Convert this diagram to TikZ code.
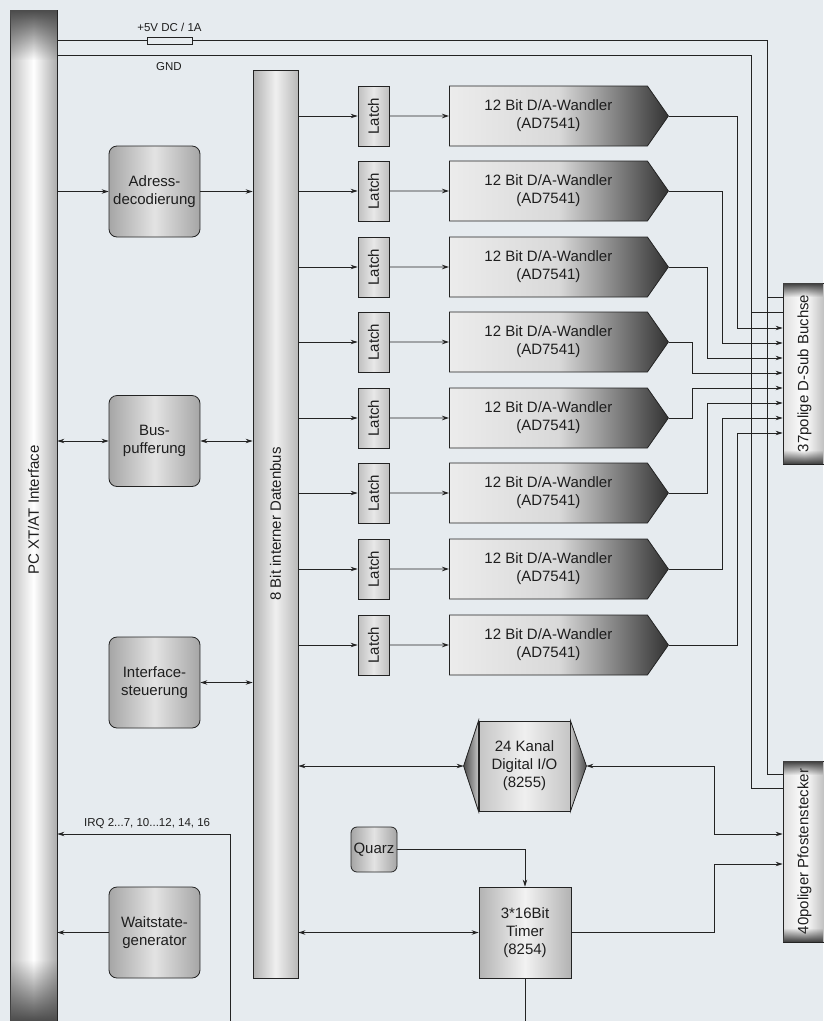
\documentclass[tikz,border=0pt]{standalone}
\usepackage{graphicx}
\usepackage{fontspec}
\setmainfont{Liberation Sans}
\usetikzlibrary{arrows.meta,shapes.symbols,fadings}

\definecolor{bgcol}{RGB}{230,235,239}
\definecolor{txtcol}{RGB}{30,30,30}
\definecolor{linecol}{RGB}{35,35,35}

\tikzfading[name=fadedown, top color=transparent!0, bottom color=transparent!100]
\tikzfading[name=fadeup, top color=transparent!100, bottom color=transparent!0]

\tikzset{
  wire/.style={draw=linecol, line width=0.8pt},
  arr/.style={wire, -{Stealth[length=7pt,width=4.5pt]}},
  darr/.style={wire, {Stealth[length=7pt,width=4.5pt]}-{Stealth[length=7pt,width=4.5pt]}},
  smalltext/.style={font=\fontsize{11.5}{13}\selectfont},
  pcbar/.style={draw=linecol, line width=0.8pt, left color=gray!50, right color=gray!65, middle color=white, inner sep=0pt},
  busbar/.style={draw=linecol, line width=0.8pt, left color=gray!60, right color=gray!55, middle color=gray!12, inner sep=0pt},
  unitbox/.style={draw=linecol, line width=0.8pt, rounded corners=8pt, left color=gray!70, right color=gray!70, middle color=gray!22, minimum width=91pt, minimum height=91pt, align=center, inner sep=0pt},
  latchbox/.style={draw=linecol, line width=0.8pt, left color=gray!50, right color=gray!50, middle color=gray!18, minimum width=31pt, minimum height=60pt, inner sep=0pt},
  dacbox/.style={signal, signal to=east, signal pointer angle=110, draw=linecol, line width=0.8pt, left color=gray!15, right color=black!80, middle color=gray!30, minimum width=219pt, minimum height=60pt, align=center, anchor=west},
  connbox/.style={draw=linecol, line width=0.8pt, left color=gray!25, right color=gray!55, middle color=white, minimum width=43pt, minimum height=181pt, inner sep=0pt},
  chipbox/.style={draw=linecol, line width=0.8pt, left color=gray!60, right color=gray!60, middle color=gray!10, minimum width=91pt, minimum height=91pt, align=center}
}

\begin{document}
\begin{tikzpicture}[x=1pt, y=-1pt, every node/.style={font=\fontsize{15}{18}\selectfont, text=txtcol}]
    % Background
    \fill[bgcol] (0,0) rectangle (823,1021);
    \useasboundingbox (0,0) rectangle (823,1021);

    % PC interface and internal data bus
    \node[pcbar, minimum width=47pt, minimum height=1030pt] (pc) at (33.5,525) {\rotatebox{90}{\hspace{30pt}PC XT/AT Interface}};
    \fill[black!70, path fading=fadedown] (10.4,10.4) rectangle (56.6,60);
    \fill[black!70, path fading=fadeup] (10.4,960) rectangle (56.6,1021);
    \node[busbar, minimum width=45pt, minimum height=908pt] (bus) at (275.5,524) {\rotatebox{90}{8 Bit interner Datenbus}};

    % Connectors
    \node[connbox] (dsub) at (804.5,373.5) {\rotatebox{90}{37polige D-Sub Buchse}};
    \node[connbox] (pfo) at (804.5,851.5) {\rotatebox{90}{40poliger Pfostenstecker}};
    \foreach \yc in {283,761} {
        \fill[black!75, path fading=fadedown] (783.4,\yc+0.4) rectangle (823,\yc+14);
        \fill[black!75, path fading=fadeup] (783.4,\yc+167) rectangle (823,\yc+180.6);
    }

    % Supply lines
    \draw[wire] (pc.east |- 0,40) -| (767,774) -- (pfo.west |- 0,774);
    \draw[wire] (pc.east |- 0,55) -| (751,788) -- (pfo.west |- 0,788);
    \draw[wire] (767,297) -- (dsub.west |- 0,297);
    \draw[wire] (751,312) -- (dsub.west |- 0,312);
    \node[draw=linecol, line width=0.8pt, fill=bgcol, minimum width=45pt, minimum height=7pt, inner sep=0pt] (fuse) at (169.5,40.5) {};
    \node[smalltext, above=1pt] (supply) at (fuse.north) {+5V DC / 1A};
    \node[smalltext] (gnd) at (169,67) {GND};

    % Left side units
    \node[unitbox] (adr) at (154.5,191.5) {Adress-\\decodierung};
    \node[unitbox] (buf) at (154.5,441) {Bus-\\pufferung};
    \node[unitbox] (ifs) at (154.5,682.5) {Interface-\\steuerung};
    \node[unitbox] (wait) at (154.5,932.5) {Waitstate-\\generator};
    \draw[arr] (pc.east |- adr) -- (adr);
    \draw[arr] (adr) -- (adr -| bus.west);
    \draw[darr] (pc.east |- buf) -- (buf);
    \draw[darr] (buf) -- (buf -| bus.west);
    \draw[darr] (ifs) -- (ifs -| bus.west);
    \draw[arr] (wait) -- (wait -| pc.east);

    % IRQ line
    \coordinate (irqend) at (230,1021);
    \draw[arr] (irqend) |- (pc.east |- 0,834) node[smalltext, pos=0.74, above=2pt] (irq) {IRQ 2...7, 10...12, 14, 16};

    % Latches and D/A converters
    \foreach \y [count=\i] in {116,191,267,342,418,493,569,645} {
        \node[latchbox] (latch\i) at (373.5,\y) {\rotatebox{90}{Latch}};
        \node[dacbox] (dac\i) at (449,\y) {12 Bit D/A-Wandler\\(AD7541)};
        \draw[arr] (bus.east |- latch\i) -- (latch\i);
        \draw[arr] (latch\i) -- (dac\i);
    }
    \foreach \i/\xr/\yd in {1/737/328, 2/722/343, 3/707/358, 4/692/373, 5/692/388, 6/707/403, 7/722/418, 8/737/433}
        \draw[arr] (dac\i.east) -| (\xr,\yd) -- (dsub.west |- 0,\yd);

    % Digital I/O
    \node[chipbox, left color=gray!45, right color=gray!45, middle color=gray!12, minimum height=90pt] (dio) at (524.5,766) {24 Kanal\\Digital I/O\\(8255)};
    \coordinate (dioL) at ([xshift=-15pt]dio.west);
    \coordinate (dioR) at ([xshift=16pt]dio.east);
    \filldraw[draw=linecol, line width=0.8pt, left color=black!70, right color=gray!45] (dio.north west) -- (dioL) -- (dio.south west) -- cycle;
    \filldraw[draw=linecol, line width=0.8pt, left color=gray!45, right color=black!70] (dio.north east) -- (dioR) -- (dio.south east) -- cycle;
    \draw[darr] (bus.east |- dio) -- (dioL);
    \draw[darr] (dioR) -- (714,766) |- (pfo.west |- 0,834);

    % Timer
    \node[unitbox, minimum width=46pt, minimum height=45pt, rounded corners=6pt] (quarz) at (374,849.5) {Quarz};
    \node[chipbox, minimum width=92pt] (timer) at (525,932.5) {3*16Bit\\Timer\\(8254)};
    \coordinate (timerend) at (525,1021);
    \draw[arr] (quarz) -| (timer.north);
    \draw[wire] (timer.south) -- (timerend);
    \draw[darr, line width=1.3pt] (bus.east |- timer) -- (timer.west);
    \draw[arr] (timer.east) -- (714,932.5) |- (pfo.west |- 0,864);
\end{tikzpicture}
\end{document}
